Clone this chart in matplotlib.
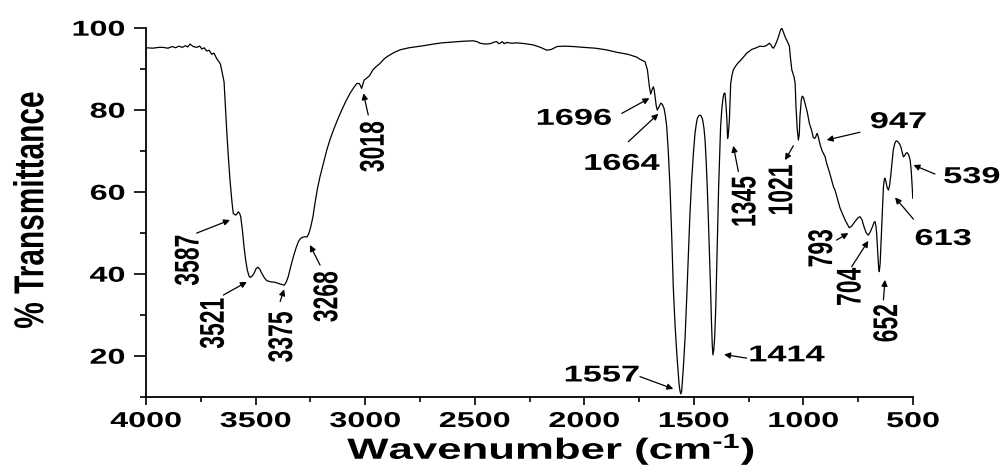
import matplotlib
matplotlib.use("Agg")
import matplotlib.pyplot as plt
import matplotlib.patheffects as pe
from matplotlib.transforms import Affine2D

plt.rcParams['font.family'] = ['Liberation Sans', 'DejaVu Sans']
plt.rcParams['font.weight'] = 'bold'
plt.rcParams['mathtext.fontset'] = 'custom'
plt.rcParams['mathtext.rm'] = 'Liberation Sans:bold'
plt.rcParams['mathtext.default'] = 'rm'

# FTIR spectrum (wavenumber in cm-1, % transmittance)
wavenumber = [
    4000, 3970, 3940, 3923, 3900, 3880, 3865, 3850, 3835, 3820, 3810, 3799, 3785, 3769, 3755,
    3745, 3735, 3723, 3712, 3700, 3690, 3677, 3666, 3660, 3655, 3648, 3644, 3638, 3632, 3625,
    3617, 3608, 3602, 3591, 3585, 3579, 3573, 3568, 3560, 3553, 3545, 3538, 3530, 3525, 3516,
    3507, 3498, 3490, 3481, 3472, 3460, 3449, 3430, 3411, 3389, 3375, 3369, 3360, 3351, 3340,
    3328, 3316, 3305, 3295, 3285, 3275, 3264, 3256, 3248, 3238, 3229, 3218, 3206, 3190, 3175,
    3160, 3145, 3125, 3107, 3088, 3069, 3052, 3038, 3028, 3023, 3016, 3010, 3005, 2993, 2980,
    2965, 2950, 2932, 2915, 2901, 2870, 2841, 2800, 2760, 2734, 2690, 2650, 2600, 2550, 2507,
    2490, 2476, 2450, 2430, 2410, 2399, 2390, 2384, 2375, 2365, 2355, 2330, 2308, 2270, 2233,
    2200, 2171, 2150, 2125, 2090, 2050, 2004, 1950, 1900, 1852, 1800, 1760, 1746, 1735, 1723,
    1712, 1703, 1697, 1690, 1685, 1681, 1677, 1672, 1667, 1660, 1651, 1644, 1636, 1630, 1624,
    1617, 1609, 1601, 1594, 1586, 1578, 1572, 1568, 1564, 1560, 1556, 1553, 1547, 1540, 1532,
    1525, 1518, 1510, 1502, 1495, 1489, 1484, 1478, 1472, 1466, 1460, 1454, 1449, 1444, 1439,
    1434, 1429, 1424, 1420, 1416, 1413, 1409, 1405, 1400, 1396, 1391, 1387, 1382, 1378, 1372,
    1366, 1362, 1358, 1354, 1350, 1346, 1342, 1338, 1335, 1332, 1326, 1320, 1310, 1297, 1289,
    1274, 1259, 1248, 1236, 1220, 1198, 1185, 1175, 1165, 1156, 1148, 1142, 1137, 1130, 1119,
    1110, 1104, 1099, 1092, 1084, 1075, 1068, 1064, 1060, 1053, 1043, 1038, 1034, 1028, 1023,
    1019, 1016, 1010, 1006, 1000, 993, 983, 973, 962, 955, 950, 945, 940, 937, 933,
    924, 915, 901, 894, 880, 863, 856, 833, 810, 791, 780, 765, 752, 742, 733,
    724, 714, 704, 694, 684, 678, 673, 669, 666, 661, 657, 654, 650, 646, 643,
    639, 635, 631, 628, 624, 618, 612, 607, 602, 596, 590, 583, 578, 574, 568,
    562, 556, 550, 544, 538, 532, 526, 520, 513, 508, 504, 501,
]
transmittance = [
    95.1, 95.0, 95.2, 95.2, 95.0, 95.4, 95.1, 95.5, 95.2, 95.6, 95.3, 96.0, 95.4, 95.2, 95.5,
    94.8, 95.1, 94.3, 94.5, 93.5, 93.8, 92.4, 91.6, 91.0, 89.7, 88.0, 86.8, 81.0, 75.0, 69.0,
    62.9, 57.5, 54.7, 54.3, 54.6, 55.1, 54.7, 53.9, 50.5, 46.6, 43.2, 40.9, 39.4, 39.1, 39.4,
    40.1, 41.2, 41.6, 41.1, 40.1, 39.0, 38.3, 38.0, 37.9, 37.5, 37.3, 37.2, 38.0, 39.3, 41.7,
    44.1, 46.2, 47.8, 48.6, 48.9, 49.0, 49.0, 50.0, 51.5, 54.0, 57.2, 60.7, 63.7, 67.0, 70.2,
    72.8, 75.0, 77.7, 79.9, 82.1, 84.0, 85.4, 86.4, 86.4, 86.0, 85.2, 86.3, 87.2, 87.7, 88.3,
    89.7, 90.5, 91.3, 92.3, 92.9, 93.9, 94.6, 95.1, 95.4, 95.6, 96.0, 96.3, 96.5, 96.7, 96.8,
    96.6, 96.2, 96.0, 96.1, 96.5, 96.6, 96.1, 96.2, 96.6, 96.1, 96.4, 96.2, 96.3, 96.1, 95.8,
    95.2, 94.5, 94.7, 95.4, 95.5, 95.4, 95.2, 95.0, 94.6, 94.0, 93.5, 92.8, 92.3, 92.0, 91.7,
    89.7, 85.6, 83.8, 85.0, 85.6, 84.8, 83.2, 81.0, 79.9, 80.6, 81.6, 81.3, 80.3, 78.5, 75.9,
    70.0, 61.2, 49.0, 36.8, 27.5, 20.6, 16.0, 13.3, 11.6, 10.7, 11.2, 13.3, 18.0, 24.6, 35.0,
    45.0, 54.5, 62.9, 69.5, 74.2, 76.5, 77.9, 78.5, 78.7, 78.4, 77.5, 75.5, 72.6, 67.5, 61.2,
    53.5, 45.0, 36.5, 28.7, 22.5, 20.2, 21.5, 24.6, 32.0, 40.9, 51.0, 61.2, 69.5, 75.9, 80.5,
    83.2, 84.0, 84.0, 81.5, 78.3, 73.0, 74.5, 77.5, 82.0, 86.4, 88.4, 89.7, 90.6, 91.5, 91.9,
    92.8, 93.8, 94.2, 94.7, 95.0, 95.5, 95.4, 95.5, 95.8, 96.2, 95.8, 95.2, 95.0, 95.6, 97.0,
    98.5, 99.5, 99.9, 99.0, 97.8, 96.8, 96.0, 95.4, 93.0, 89.7, 88.0, 86.5, 80.7, 75.0, 72.6,
    74.0, 78.3, 82.3, 83.3, 83.0, 81.6, 79.5, 76.7, 74.8, 73.2, 73.0, 73.2, 74.0, 74.2, 73.5,
    71.5, 70.0, 68.5, 66.9, 64.5, 61.2, 60.4, 56.0, 53.1, 51.2, 51.6, 52.7, 53.6, 53.9, 53.2,
    51.5, 50.0, 49.4, 50.3, 51.6, 52.5, 52.7, 51.5, 49.9, 45.0, 41.5, 40.5, 42.5, 47.5, 50.7,
    56.0, 61.2, 63.0, 63.3, 62.6, 61.0, 60.4, 61.5, 63.7, 67.0, 70.2, 71.8, 72.3, 72.4, 72.1,
    71.7, 71.0, 69.8, 68.5, 68.8, 69.4, 69.5, 69.0, 67.7, 65.0, 61.5, 58.4,
]

peak_labels = ["3587", "3521", "3375", "3268", "3018", "1696", "1664", "1557", "1414",
               "1345", "1021", "947", "793", "704", "652", "613", "539"]

# layout of the labels: text centre, arrow tail, arrow head, rotated?
label_layout = {
    "3587": ((3808, 43.3), (3769, 49.9), (3617, 53.1), True),
    "3521": ((3693, 27.9), (3647, 34.8), (3540, 38.0), True),
    "3375": ((3381, 24.6), (3388, 33.2), (3370, 36.2), True),
    "3268": ((3175, 34.4), (3206, 42.1), (3252, 47.0), True),
    "3018": ((2963, 71.0), (2986, 78.7), (3008, 84.0), True),
    "1696": ((2047, 77.9), (1829, 79.1), (1703, 82.8), False),
    "1664": ((1829, 66.9), (1799, 72.2), (1662, 79.0), False),
    "1557": ((1920, 15.3), (1746, 14.9), (1594, 11.9), False),
    "1414": ((1076, 20.2), (1259, 19.4), (1362, 20.3), False),
    "1345": ((1267, 57.6), (1297, 64.9), (1320, 71.2), True),
    "1021": ((1099, 60.4), (1046, 71.2), (1084, 67.7), True),
    "947": ((567, 77.1), (742, 74.5), (894, 72.6), False),
    "793": ((917, 46.2), (849, 48.2), (795, 49.9), True),
    "704": ((787, 36.8), (780, 41.7), (704, 48.0), True),
    "652": ((620, 27.9), (635, 33.6), (628, 38.5), True),
    "613": ((362, 48.6), (498, 53.3), (582, 58.6), False),
    "539": ((232, 63.7), (400, 64.3), (498, 66.5), False),
}


class Stretch(pe.AbstractPathEffect):
    # widen text horizontally, the original picture is stretched sideways
    def __init__(self, sx=1.5, anchor='center'):
        super().__init__()
        self.sx = sx
        self.anchor = anchor

    def draw_path(self, renderer, gc, tpath, affine, rgbFace=None):
        bb = tpath.get_extents(affine)
        if self.anchor == 'right':
            cx = bb.x1
        else:
            cx = (bb.x0 + bb.x1) / 2
        t = affine + Affine2D().translate(-cx, 0).scale(self.sx, 1).translate(cx, 0)
        renderer.draw_path(gc, tpath, t, rgbFace)


fig = plt.figure(figsize=(10.01, 4.66), dpi=100)
ax = fig.add_axes([0.1459, 0.1487, 0.7662, 0.7919])

ax.plot(wavenumber, transmittance, color='black', lw=0.9)

ax.set_xlim(4000, 500)
ax.set_ylim(10, 100)
ax.set_xticks([4000, 3500, 3000, 2500, 2000, 1500, 1000, 500])
ax.set_xticks([3750, 3250, 2750, 2250, 1750, 1250, 750], minor=True)
ax.set_yticks([20, 40, 60, 80, 100])
ax.set_yticks([10, 30, 50, 70, 90], minor=True)

for side in ['top', 'right']:
    ax.spines[side].set_visible(False)
for side in ['left', 'bottom']:
    ax.spines[side].set_linewidth(1.3)

ax.tick_params(axis='x', which='major', direction='out', length=5.8, width=1.2, pad=4.5, labelsize=15.5)
ax.tick_params(axis='x', which='minor', direction='out', length=3.6, width=1.2)
ax.tick_params(axis='y', which='major', direction='out', length=8.6, width=1.2, pad=6.5, labelsize=15.5)
ax.tick_params(axis='y', which='minor', direction='out', length=4.3, width=1.2)

for lab in ax.get_xticklabels():
    lab.set_fontweight('bold')
    lab.set_path_effects([Stretch(1.5)])
for lab in ax.get_yticklabels():
    lab.set_fontweight('bold')
    lab.set_path_effects([Stretch(1.5, 'right')])

for name in peak_labels:
    (tx, ty), tail, head, rotated = label_layout[name]
    ax.annotate('', xy=head, xytext=tail,
                arrowprops=dict(arrowstyle='-|>', color='black', lw=0.9,
                                mutation_scale=9, shrinkA=0, shrinkB=0))
    ax.text(tx, ty, name, rotation=90 if rotated else 0, ha='center', va='center',
            fontsize=16.5, fontweight='bold', clip_on=False,
            path_effects=[Stretch(1.5)])

fig.text(31 / 1001, 1 - 210 / 466, '% Transmittance', rotation=90, ha='center', va='center',
         fontsize=21.5, fontweight='bold', path_effects=[Stretch(1.4)])
fig.text(551 / 1001, 1 - 459 / 466, r'Wavenumber (cm$^{\text{-}1}$)', ha='center', va='baseline',
         fontsize=21, fontweight='bold', path_effects=[Stretch(1.5)])

fig.savefig('out.png', dpi=100)
